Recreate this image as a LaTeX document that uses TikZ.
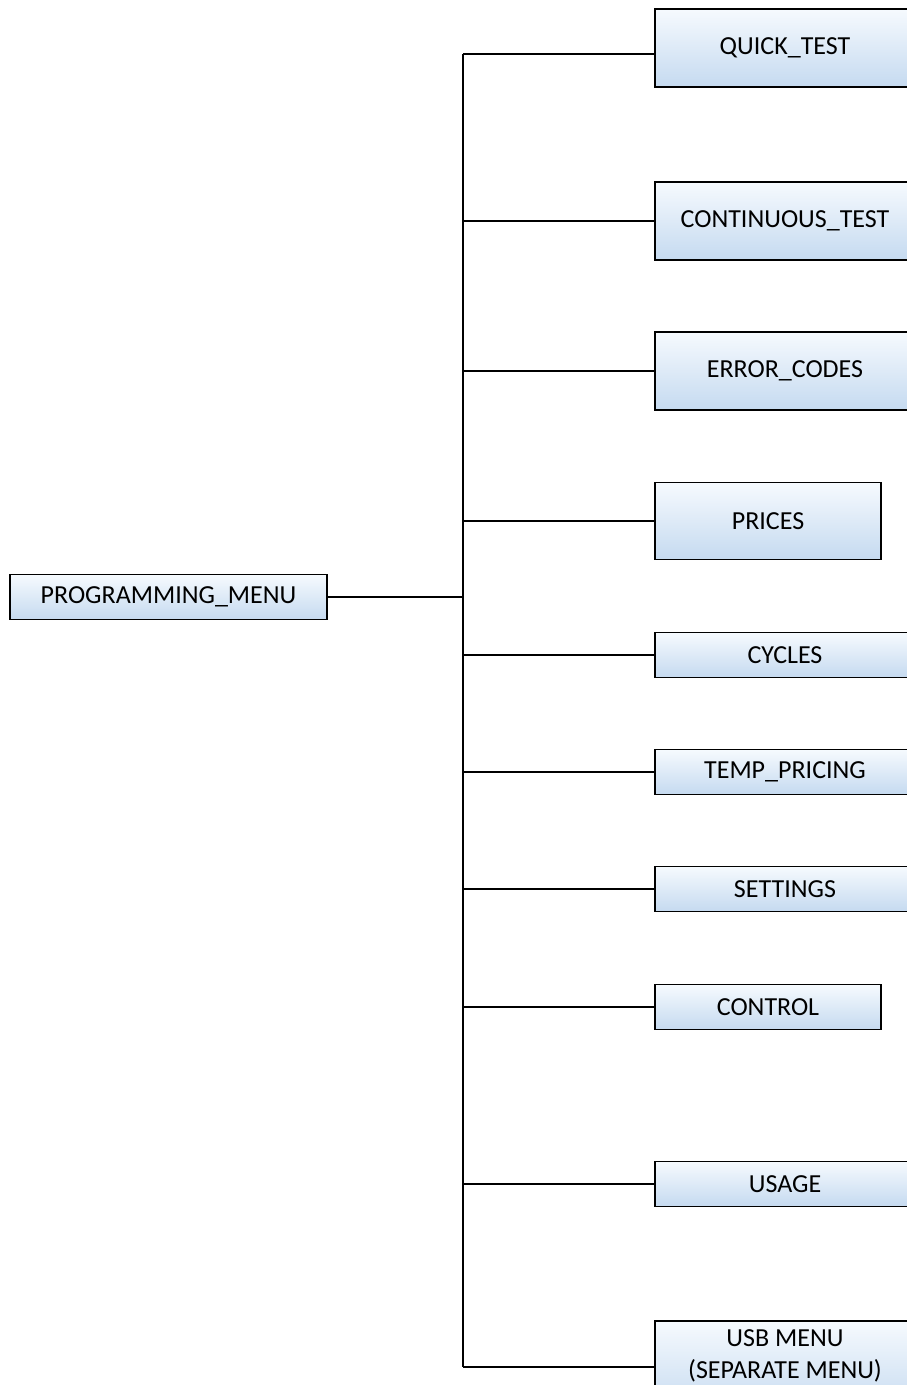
\documentclass[tikz,border=0pt]{standalone}
\usepackage{fontspec}
\setmainfont{Carlito}
\definecolor{boxtop}{RGB}{246,250,254}
\definecolor{boxbot}{RGB}{197,218,240}
\begin{document}
\begin{tikzpicture}[x=1pt,y=-1pt,
  menubox/.style={draw=black, line width=1.3pt, top color=boxtop, bottom color=boxbot,
    inner sep=0pt, font=\fontsize{26}{32}\selectfont, align=center},
  conn/.style={draw=black, line width=1.3pt}]
\useasboundingbox (0,0) rectangle (906,1385);
% left root box
\node[menubox, minimum width=317, minimum height=45] (pm) at (168.5,597) {PROGRAMMING\_MENU};
% right boxes (wide ones run past the page edge)
\node[menubox, minimum width=260, minimum height=78] (q) at (785,48) {QUICK\_TEST};
\node[menubox, minimum width=260, minimum height=78] (c) at (785,221) {CONTINUOUS\_TEST};
\node[menubox, minimum width=260, minimum height=78] (e) at (785,371) {ERROR\_CODES};
\node[menubox, minimum width=226, minimum height=77] (p) at (768,521) {PRICES};
\node[menubox, minimum width=260, minimum height=45] (cy) at (785,655) {CYCLES};
\node[menubox, minimum width=260, minimum height=45] (tp) at (785,772) {TEMP\_PRICING};
\node[menubox, minimum width=260, minimum height=45] (s) at (785,889) {SETTINGS};
\node[menubox, minimum width=226, minimum height=45] (ct) at (768,1007) {CONTROL};
\node[menubox, minimum width=260, minimum height=45] (u) at (785,1184) {USAGE};
\node[menubox, minimum width=260, minimum height=92] (usb) at (785,1367) {};
\node[font=\fontsize{26}{32}\selectfont, align=center, inner sep=0pt] (usbt) at (785,1356) {USB MENU\\(SEPARATE MENU)};
% trunk
\coordinate (t0) at (463,597);
\coordinate (ttop) at (463,54);
\coordinate (tbot) at (463,1367);
\draw[conn] (pm.east) -- (t0);
\draw[conn] (ttop) -- (tbot);
\draw[conn] (ttop) -- (ttop -| q.west);
\coordinate (t2) at (463,221);
\coordinate (t3) at (463,371);
\coordinate (t4) at (463,521);
\coordinate (t5) at (463,655);
\coordinate (t6) at (463,772);
\coordinate (t7) at (463,889);
\coordinate (t8) at (463,1007);
\coordinate (t9) at (463,1184);
\draw[conn] (t2) -- (c.west);
\draw[conn] (t3) -- (e.west);
\draw[conn] (t4) -- (p.west);
\draw[conn] (t5) -- (cy.west);
\draw[conn] (t6) -- (tp.west);
\draw[conn] (t7) -- (s.west);
\draw[conn] (t8) -- (ct.west);
\draw[conn] (t9) -- (u.west);
\draw[conn] (tbot) -- (usb.west);
\end{tikzpicture}
\end{document}
